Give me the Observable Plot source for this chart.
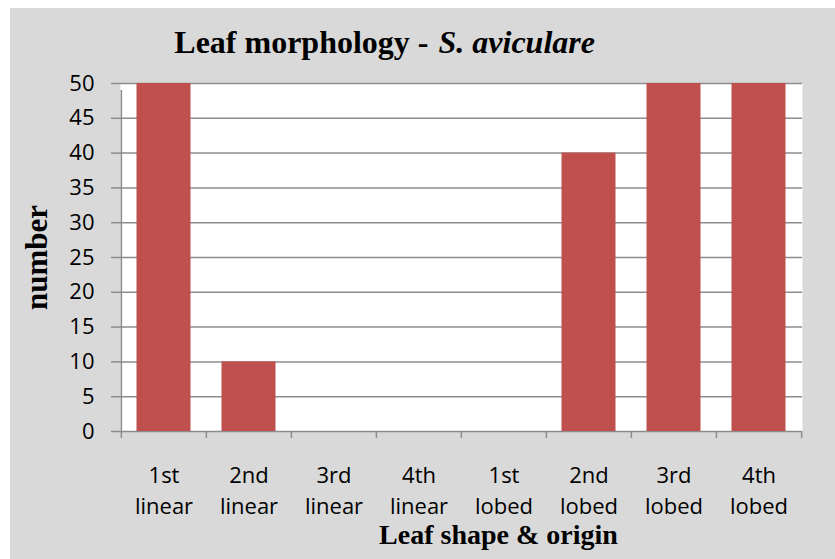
<!DOCTYPE html>
<html>
<head>
<meta charset="utf-8">
<script src="https://cdn.jsdelivr.net/npm/d3@7"></script>
<script src="https://cdn.jsdelivr.net/npm/@observablehq/plot@0.6"></script>
<style>
  html, body { margin: 0; padding: 0; background: #ffffff; }
  #chart { position: absolute; left: 10px; top: 8px; }
  #chart svg { display: block; background: #d9d9d9; }
</style>
</head>
<body>
<div id="chart"></div>
<script>
const categories = ["1st linear", "2nd linear", "3rd linear", "4th linear", "1st lobed", "2nd lobed", "3rd lobed", "4th lobed"];
const lineOne = ["1st", "2nd", "3rd", "4th", "1st", "2nd", "3rd", "4th"];
const lineTwo = ["linear", "linear", "linear", "linear", "lobed", "lobed", "lobed", "lobed"];
const values = [50, 10, 0, 0, 0, 40, 50, 50];
const yTicks = [0, 5, 10, 15, 20, 25, 30, 35, 40, 45, 50];
const titleMain = "Leaf morphology -";
const titleSpecies = "S. aviculare";
const xTitle = "Leaf shape & origin";
const yTitle = "number";

const W = 825, H = 551;
const mL = 110, mR = 33, mT = 75, mB = 128;
const step = (W - mL - mR) / categories.length;
const grid = "#8c8c8c";
const sans = "'Open Sans', sans-serif";
const serif = "'Liberation Serif', 'Times New Roman', serif";

const bars = categories.map((c, i) => ({cat: c, value: values[i]}));
const bounds = categories.map((c, i) => ({cat: c, first: i === 0}));

const chart = Plot.plot({
  width: W,
  height: H,
  marginLeft: mL,
  marginRight: mR,
  marginTop: mT,
  marginBottom: mB,
  style: {background: "#d9d9d9", color: "black", fontFamily: sans},
  x: {domain: categories, padding: 0, axis: null},
  y: {domain: [0, 50], axis: null},
  marks: [
    Plot.frame({fill: "white", stroke: null}),
    Plot.ruleY(yTicks, {stroke: grid, strokeWidth: 1.5}),
    Plot.barY(bars, {x: "cat", y: "value", fill: "#c0504d", insetLeft: 15.5, insetRight: 15.5}),
    // left axis line + category boundary ticks
    Plot.ruleX(bounds.filter(d => d.first), {x: "cat", y1: 0, y2: 50, dx: -step / 2, stroke: grid, strokeWidth: 1.5, insetBottom: -7}),
    Plot.ruleX(bounds, {x: "cat", y1: 0, y2: 0, dx: -step / 2, stroke: grid, strokeWidth: 1.5, insetBottom: -7}),
    Plot.ruleX(bounds.slice(-1), {x: "cat", y1: 0, y2: 0, dx: step / 2, stroke: grid, strokeWidth: 1.5, insetBottom: -7}),
    Plot.axisY({ticks: yTicks, label: null, tickSize: 9, tickPadding: 17, stroke: grid, strokeWidth: 1.5, fontSize: 22, fill: "black", fontFamily: sans}),
    Plot.text(categories, {x: d => d, text: (d, i) => lineOne[i], frameAnchor: "bottom", lineAnchor: "middle", dy: 44, fontSize: 22, fill: "black", fontFamily: sans}),
    Plot.text(categories, {x: d => d, text: (d, i) => lineTwo[i], frameAnchor: "bottom", lineAnchor: "middle", dy: 75, fontSize: 22, fill: "black", fontFamily: sans}),
    Plot.text([titleMain], {frameAnchor: "top-left", text: d => d, textAnchor: "end", lineAnchor: "middle", dx: 308, dy: -40.6, fontSize: 32, fontWeight: "bold", fontFamily: serif, fill: "black"}),
    Plot.text([titleSpecies], {frameAnchor: "top-left", text: d => d, textAnchor: "start", lineAnchor: "middle", dx: 318, dy: -40.6, fontSize: 32, fontWeight: "bold", fontStyle: "italic", fontFamily: serif, fill: "black"}),
    Plot.text([xTitle], {frameAnchor: "bottom", text: d => d, textAnchor: "middle", lineAnchor: "middle", dx: 37, dy: 104, fontSize: 28, fontWeight: "bold", fontFamily: serif, fill: "black"}),
    Plot.text([yTitle], {frameAnchor: "left", text: d => d, textAnchor: "middle", lineAnchor: "middle", rotate: -90, dx: -83, fontSize: 31, fontWeight: "bold", fontFamily: serif, fill: "black"})
  ]
});
document.getElementById("chart").appendChild(chart);
</script>
</body>
</html>
